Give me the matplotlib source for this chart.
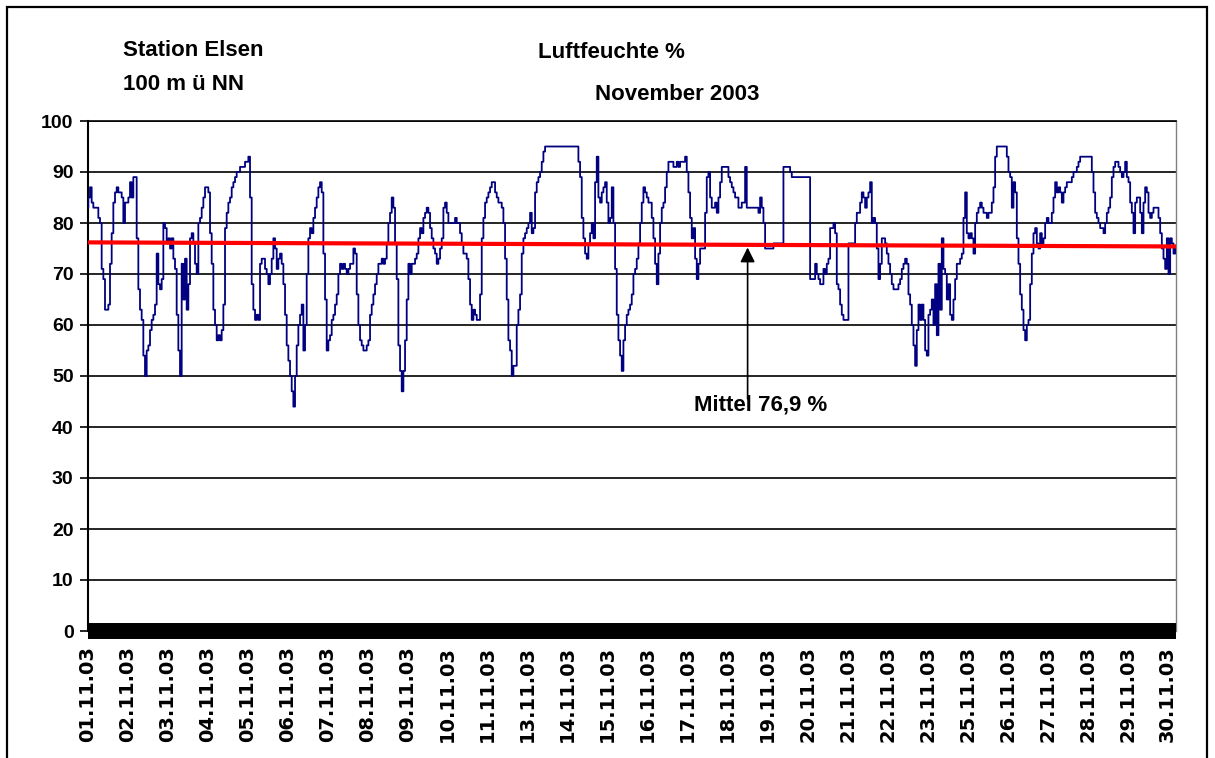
import numpy as np
import matplotlib
matplotlib.use("Agg")
import matplotlib.pyplot as plt
from matplotlib.patches import Rectangle

plt.rcParams['font.family'] = ['Liberation Sans', 'DejaVu Sans']
plt.rcParams['font.weight'] = 'bold'

# Luftfeuchte in % (gleichmaessige Messabstaende)
feuchte = [
    83, 85, 87, 84, 83, 83, 83, 81, 80, 71,
    69, 63, 63, 64, 72, 78, 84, 86, 87, 86,
    86, 85, 80, 84, 84, 85, 88, 85, 89, 89,
    77, 67, 63, 61, 54, 50, 55, 56, 59, 61,
    62, 64, 74, 68, 67, 69, 80, 79, 76, 77,
    75, 77, 73, 71, 62, 55, 50, 72, 65, 73,
    63, 68, 77, 78, 76, 72, 70, 80, 81, 83,
    85, 87, 87, 86, 78, 72, 63, 60, 57, 58,
    # 05.11.
    57, 59, 64, 79, 82, 84, 85, 87, 88, 89,
    90, 90, 91, 91, 91, 92, 92, 93, 85, 68,
    63, 61, 62, 61, 72, 73, 73, 71, 70, 68,
    70, 73, 77, 75, 71, 73, 74, 72, 68, 62,
    56, 53, 50, 47, 44, 50, 56, 60, 62, 64,
    55, 60, 70, 77, 79, 78, 81, 83, 85, 87,
    88, 86, 74, 65, 55, 57, 58, 61, 62, 64,
    66, 70, 72, 71, 72, 71, 70, 71, 72, 72,
    75,
    # 08.11.
    74, 66, 60, 57, 56, 55, 55, 56, 57, 62,
    64, 66, 68, 70, 72, 72, 73, 72, 73, 76,
    80, 82, 85, 83, 76, 69, 56, 51, 47, 51,
    57, 65, 72, 70, 72, 72, 73, 74, 77, 79,
    78, 81, 82, 83, 82, 79, 77, 75, 74, 72,
    73, 75, 77, 83, 84, 82, 80, 80, 80, 80,
    81, 80, 80, 78, 76, 74, 74, 73, 69, 64,
    61, 63, 62, 61, 61, 66, 77, 81, 84, 85,
    86,
    # 12.11.
    87, 88, 88, 86, 85, 84, 84, 83, 80, 73,
    65, 57, 55, 50, 52, 52, 60, 63, 66, 74,
    77, 78, 79, 80, 82, 78, 79, 86, 88, 89,
    90, 92, 94, 95, 95, 95, 95, 95, 95, 95,
    95, 95, 95, 95, 95, 95, 95, 95, 95, 95,
    95, 95, 95, 92, 89, 81, 77, 74, 73, 76,
    78, 80, 77, 88, 93, 85, 84, 86, 87, 88,
    84, 80, 81, 87, 80, 71, 62, 57, 54, 51,
    57,
    # 15.11.
    60, 62, 63, 64, 66, 70, 71, 73, 76, 80,
    84, 87, 86, 85, 84, 84, 81, 77, 72, 68,
    74, 80, 83, 84, 87, 90, 92, 92, 92, 91,
    91, 92, 91, 92, 92, 92, 93, 90, 86, 81,
    77, 79, 73, 69, 72, 75, 75, 75, 82, 89,
    90, 85, 83, 83, 84, 82, 85, 88, 91, 91,
    91, 91, 89, 88, 87, 86, 85, 85, 83, 83,
    84, 84, 91, 83, 83, 83, 83, 83, 83, 83,
    82,
    # 19.11.
    85, 83, 80, 75, 75, 75, 75, 75, 76, 76,
    76, 76, 76, 76, 91, 91, 91, 91, 90, 89,
    89, 89, 89, 89, 89, 89, 89, 89, 89, 89,
    69, 69, 69, 72, 70, 69, 68, 68, 71, 70,
    72, 73, 79, 79, 80, 78, 68, 67, 64, 62,
    61, 61, 61, 76, 76, 76, 76, 80, 82, 82,
    84, 86, 85, 83, 85, 86, 88, 80, 81, 80,
    75, 69, 72, 77, 77, 76, 74, 72, 70, 68,
    67,
    # 22.11.
    67, 67, 68, 69, 71, 72, 73, 72, 66, 64,
    60, 56, 52, 59, 64, 61, 64, 61, 55, 54,
    62, 63, 65, 60, 68, 58, 72, 63, 77, 71,
    70, 65, 68, 62, 61, 65, 69, 72, 72, 73,
    74, 81, 86, 78, 77, 78, 77, 74, 80, 82,
    83, 84, 83, 82, 82, 81, 82, 82, 84, 87,
    93, 95, 95, 95, 95, 95, 95, 93, 90, 89,
    83, 88, 86, 77, 72, 66, 63, 59, 57, 60,
    61,
    # 26.11.
    68, 74, 78, 79, 76, 75, 78, 76, 77, 80,
    81, 80, 80, 82, 85, 88, 86, 87, 86, 84,
    86, 87, 88, 88, 88, 89, 90, 90, 91, 92,
    93, 93, 93, 93, 93, 93, 93, 90, 86, 82,
    81, 80, 79, 79, 78, 80, 82, 83, 85, 89,
    91, 92, 92, 91, 90, 89, 90, 92, 89, 88,
    84, 82, 78, 84, 85, 85, 82, 78, 84, 87,
    86, 82, 81, 82, 83, 83, 83, 81, 78, 75,
    73, 71, 77, 70, 77, 76, 74, 75,
]

# Datumsbeschriftung (jeder 24. Messwert)
datum = ['01.11.03', '02.11.03', '03.11.03', '04.11.03', '05.11.03',
         '06.11.03', '07.11.03', '08.11.03', '09.11.03', '10.11.03',
         '11.11.03', '13.11.03', '14.11.03', '15.11.03', '16.11.03',
         '17.11.03', '18.11.03', '19.11.03', '20.11.03', '21.11.03',
         '22.11.03', '23.11.03', '25.11.03', '26.11.03', '27.11.03',
         '28.11.03', '29.11.03', '30.11.03']
label_schritt = 24

y_werte = list(range(0, 101, 10))

# lineare Trendlinie (Anfang, Ende) und Mittelwert-Hinweis
trend = [76.2, 75.4]
mittel_text = 'Mittel 76,9 %'
pfeil_index = 396

W, H = 1215, 758
fig = plt.figure(figsize=(W / 100, H / 100), dpi=100)
ax = fig.add_axes([87.5 / W, 1 - 631 / H, (1176 - 87.5) / W, (631 - 121) / H])

x = np.arange(len(feuchte))
ax.plot(x, feuchte, color='#000080', lw=1.3, drawstyle='steps-mid', zorder=3)
ax.plot([x[0], x[-1]], trend, color='#ff0000', lw=3, zorder=4)

ax.set_xlim(0, len(feuchte) - 1)
ax.set_ylim(0, 100)

ax.set_yticks(y_werte)
ax.yaxis.grid(True, color='black', lw=1.2)
ax.set_axisbelow(True)
ax.tick_params(axis='y', length=6, width=1.2, labelsize=14, pad=4)

ax.set_xticks(np.arange(len(datum)) * label_schritt)
ax.set_xticklabels(datum, rotation=90, family=['DejaVu Sans'])
ax.tick_params(axis='x', length=0, labelsize=14, pad=11)

ax.spines['top'].set_linewidth(1.2)
ax.spines['left'].set_linewidth(1.5)
ax.spines['right'].set_color('#808080')
ax.spines['right'].set_linewidth(1)
ax.spines['bottom'].set_visible(False)

# dichte Kategorie-Striche am Nullpunkt -> schwarzes Band
ax.axhline(0, color='black', lw=11.5, clip_on=False, zorder=5,
           solid_capstyle='butt')

# Hinweis Mittelwert
ax.annotate('', xy=(pfeil_index, trend[0] - 1), xytext=(pfeil_index, 45.5),
            arrowprops=dict(arrowstyle='-|>', color='black', lw=1.2,
                            mutation_scale=22, shrinkA=0, shrinkB=0),
            zorder=6)
ax.text(pfeil_index + 8, 44.3, mittel_text, fontsize=16, ha='center',
        va='center', zorder=7)

fig.text(123 / W, 1 - 51 / H, 'Station Elsen', fontsize=16, va='center')
fig.text(123 / W, 1 - 84 / H, '100 m ü NN', fontsize=16, va='center')
fig.text(538 / W, 1 - 52 / H, 'Luftfeuchte %', fontsize=16, va='center')
fig.text(595 / W, 1 - 95 / H, 'November 2003', fontsize=16, va='center')

fig.patches.append(Rectangle((7 / W, -0.05), (1207 - 7) / W, 1.05 - 7 / H,
                             transform=fig.transFigure, fill=False,
                             edgecolor='black', lw=1.6))

fig.savefig('out.png', dpi=100)
